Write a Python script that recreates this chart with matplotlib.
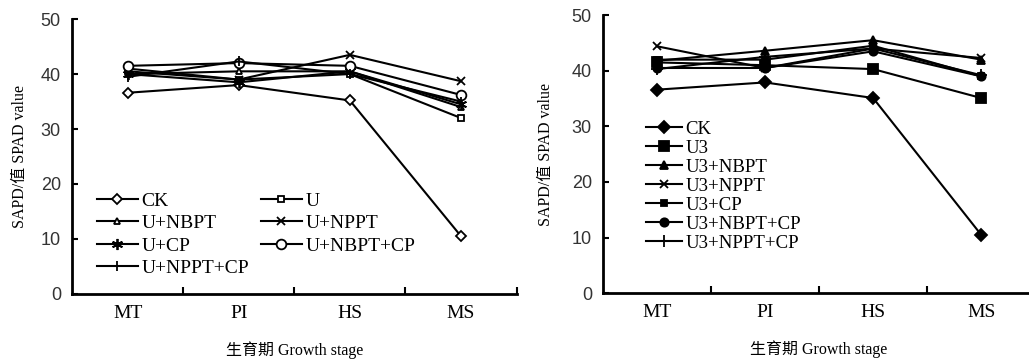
import numpy as np
import matplotlib.pyplot as plt

stages = ['MT', 'PI', 'HS', 'MS']

# left panel
left_names = ['CK', 'U', 'U+NBPT', 'U+NPPT', 'U+CP', 'U+NBPT+CP', 'U+NPPT+CP']
ck_l = [36.6, 38.0, 35.2, 10.5]
u_l = [40.5, 39.0, 40.0, 32.0]
u_nbpt_l = [40.0, 40.5, 40.5, 34.0]
u_nppt_l = [41.0, 39.0, 43.5, 38.7]
u_cp_l = [40.0, 38.5, 40.5, 34.5]
u_nbpt_cp_l = [41.5, 42.0, 41.5, 36.2]
u_nppt_cp_l = [39.5, 42.3, 40.0, 35.0]

# right panel
right_names = ['CK', 'U3', 'U3+NBPT', 'U3+NPPT', 'U3+CP', 'U3+NBPT+CP', 'U3+NPPT+CP']
ck_r = [36.6, 37.9, 35.1, 10.5]
u3_r = [41.5, 41.0, 40.3, 35.1]
u3_nbpt_r = [41.8, 43.6, 45.5, 42.0]
u3_nppt_r = [44.4, 40.5, 44.0, 42.3]
u3_cp_r = [42.0, 42.0, 44.5, 39.0]
u3_nbpt_cp_r = [40.5, 40.5, 43.5, 39.0]
u3_nppt_cp_r = [40.3, 42.5, 44.0, 39.2]

left_data = [ck_l, u_l, u_nbpt_l, u_nppt_l, u_cp_l, u_nbpt_cp_l, u_nppt_cp_l]
right_data = [ck_r, u3_r, u3_nbpt_r, u3_nppt_r, u3_cp_r, u3_nbpt_cp_r, u3_nppt_cp_r]

left_markers = [('D', 5), ('s', 5), ('^', 5), ('x', 6), ((6, 2, 0), 8), ('o', 7), ('|', 7)]
right_markers = [('D', 6), ('s', 7), ('^', 6), ('x', 6), ('s', 5), ('o', 6), ('+', 8)]

serif = ['Liberation Serif', 'Noto Sans CJK SC']
sans = 'Liberation Sans'

fig = plt.figure(figsize=(10.29, 3.61), dpi=100)
ax1 = fig.add_axes([0.070, 0.186, 0.432, 0.761])
ax2 = fig.add_axes([0.586, 0.188, 0.420, 0.770])

x = np.arange(len(stages)) + 0.5


def style_axis(ax):
    ax.set_xlim(0, 4)
    ax.set_ylim(0, 50)
    for s in ['top', 'right']:
        ax.spines[s].set_visible(False)
    for s in ['left', 'bottom']:
        ax.spines[s].set_linewidth(2)
    ax.set_yticks([0, 10, 20, 30, 40, 50])
    ax.set_xticks([1, 2, 3, 4])
    ax.set_xticklabels([])
    ax.set_xticks(x, minor=True)
    ax.set_xticklabels(stages, minor=True, fontfamily=serif, fontsize=14)
    ax.tick_params(axis='x', which='major', direction='in', length=5, width=1.5)
    ax.tick_params(axis='x', which='minor', length=0, pad=8)
    ax.tick_params(axis='y', direction='in', length=4, width=1.5, labelsize=13, pad=8)
    for lab in ax.get_yticklabels():
        lab.set_fontfamily(sans)
        lab.set_color('#333333')
    ax.set_ylabel('SAPD/值 SPAD value', fontfamily=serif, fontsize=11.5)
    ax.set_xlabel('生育期 Growth stage', fontfamily=serif, fontsize=11.5, labelpad=14)


for vals, name, (m, ms) in zip(left_data, left_names, left_markers):
    ax1.plot(x, vals, color='black', lw=1.5, marker=m, ms=ms,
             mfc='white', mec='black', mew=1.3, label=name)

for vals, name, (m, ms) in zip(right_data, right_names, right_markers):
    ax2.plot(x, vals, color='black', lw=1.5, marker=m, ms=ms,
             mfc='black', mec='black', mew=1.3, label=name)

style_axis(ax1)
style_axis(ax2)
ax1.yaxis.set_label_coords(-0.10, 0.5)
ax2.yaxis.set_label_coords(-0.113, 0.5)

# legend filled row by row: reorder for matplotlib's column-wise fill
h, l = ax1.get_legend_handles_labels()
order = [0, 2, 4, 6, 1, 3, 5]
ax1.legend([h[i] for i in order], [l[i] for i in order],
           loc='upper left', bbox_to_anchor=(0.056, 0.37), ncol=2, frameon=False,
           prop={'family': 'Liberation Serif', 'size': 14}, handlelength=2.1,
           handletextpad=0.2, columnspacing=0.6, labelspacing=0.25,
           borderaxespad=0, borderpad=0)
ax2.legend(loc='upper left', bbox_to_anchor=(0.10, 0.62), ncol=1, frameon=False,
           prop={'family': 'Liberation Serif', 'size': 13.5}, handlelength=1.9,
           handletextpad=0.2, labelspacing=0.1, borderaxespad=0, borderpad=0)

fig.savefig('out.png')
